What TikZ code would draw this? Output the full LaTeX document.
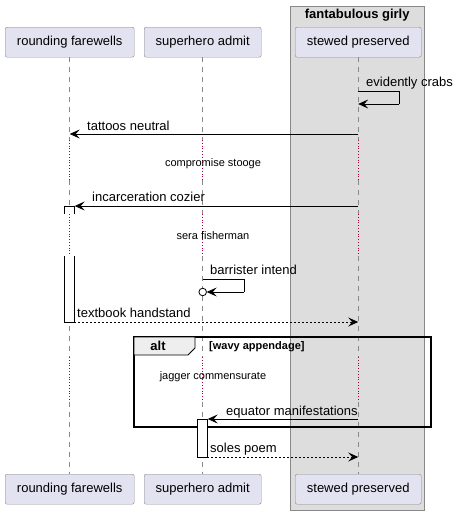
\documentclass[tikz,border=0pt]{standalone}
\usepackage{fontspec}
\setmainfont{Liberation Sans}
\usetikzlibrary{positioning,arrows.meta,calc}
\definecolor{partfill}{HTML}{E2E2F0}
\definecolor{partline}{HTML}{888888}
\definecolor{boxfill}{HTML}{DDDDDD}
\definecolor{delaydot}{HTML}{A80036}
\definecolor{tabfill}{HTML}{EEEEEE}

\begin{document}
\begin{tikzpicture}[x=1pt,y=-1pt,
    font=\fontsize{13}{15}\selectfont,
    part/.style={draw=partline,fill=partfill,rounded corners=2pt,minimum height=30pt,inner sep=0pt,anchor=north west},
    life/.style={draw=partline,dash pattern=on 5pt off 5pt,line width=0.6pt},
    delay/.style={draw=delaydot,dotted,line width=0.8pt},
    msg/.style={line width=0.8pt,-{Stealth[length=10pt,width=9pt,inset=4pt]}},
    reply/.style={msg,dash pattern=on 2pt off 2pt},
    lbl/.style={anchor=base west,inner sep=0pt},
    note/.style={font=\fontsize{11}{13}\selectfont,inner sep=0pt},
    actbar/.style={draw,fill=white,line width=0.8pt}
  ]
    \useasboundingbox (0,0) rectangle (456,515);

    % group box
    \node[draw=partline,fill=boxfill,minimum width=134pt,minimum height=504pt,anchor=north west,inner sep=0pt] (girly) at (290,6) {};
    \node[font=\bfseries\fontsize{13}{15}\selectfont,anchor=north,inner sep=0pt] (girlyt) at ($(girly.north)+(0,3)$) {fantabulous girly};

    % participants
    \node[part,minimum width=129pt] (rf) at (5,27) {rounding farewells};
    \node[part,minimum width=117pt] (sa) at (144,27) {superhero admit};
    \node[part,minimum width=126pt] (sp) at (295,27) {stewed preserved};
    \node[part,minimum width=129pt] (rfb) at (5,474) {rounding farewells};
    \node[part,minimum width=117pt] (sab) at (144,474) {superhero admit};
    \node[part,minimum width=126pt] (spb) at (295,474) {stewed preserved};

    % lifelines
    \foreach \p in {rf,sa,sp}{
      \draw[life] (\p.south) -- (\p.south |- 0,140);
      \draw[delay] (\p.south |- 0,140) -- (\p.south |- 0,180);
      \draw[life] (\p.south |- 0,180) -- (\p.south |- 0,214);
      \draw[delay] (\p.south |- 0,214) -- (\p.south |- 0,256);
      \draw[life] (\p.south |- 0,256) -- (\p.south |- 0,357);
      \draw[delay] (\p.south |- 0,357) -- (\p.south |- 0,402);
      \draw[life] (\p.south |- 0,402) -- (\p b.north);
    }

    % alt frame
    \draw[line width=1.5pt] (134,337) rectangle (431,427);
    \draw[fill=tabfill,line width=0.8pt] (134,337) -- (195,337) -- (195,348) -- (188,355) -- (134,355) -- cycle;
    \node[font=\bfseries\fontsize{13}{15}\selectfont,inner sep=0pt] (alt) at (158,346) {alt};
    \node[font=\bfseries\fontsize{11}{13}\selectfont,anchor=west,inner sep=0pt] (guard) at (209,347) {[wavy appendage]};

    % messages
    \draw[line width=0.8pt] (sp.south |- 0,91) -- (399,91) coordinate (ecr) -- (ecr |- 0,104) coordinate (ecb);
    \draw[msg] (ecb) -- (sp.south |- 0,104);
    \node[lbl] (l1) at (366,86) {evidently crabs};

    \draw[msg] (sp.south |- 0,134) -- (rf.south |- 0,134);
    \node[lbl] (l2) at (87,130) {tattoos neutral};

    \node[note] (d1) at (213,164) {compromise stooge};

    \draw[msg] (sp.south |- 0,206) -- ($(rf.south |- 0,206)+(5,0)$);
    \node[lbl] (l3) at (92,201) {incarceration cozier};
    \draw[actbar] (64,214) -- (64,206) -- (74,206) -- (74,214);

    \node[note] (d2) at (213,236) {sera fisherman};

    \draw[actbar] (64,256) -- (64,322) -- (74,322) -- (74,256);

    \draw[line width=0.8pt] (sa.south |- 0,279) -- (244,279) coordinate (bir) -- (bir |- 0,292) coordinate (bib);
    \coordinate (bic) at ($(sa.south |- 0,292)+(4,0)$);
    \draw[msg] (bib) -- (bic);
    \draw[line width=0.8pt,fill=white] (sa.south |- 0,292) circle (3.8pt);
    \node[lbl] (l4) at (210,274) {barrister intend};

    \draw[reply] (74,322) -- (sp.south |- 0,322);
    \node[lbl] (l5) at (77,317) {textbook handstand};

    \node[note] (d3) at (213,377) {jagger commensurate};

    \draw[msg] (sp.south |- 0,419) -- ($(sa.south |- 0,419)+(5,0)$);
    \node[lbl] (l6) at (226,415) {equator manifestations};
    \draw[actbar] (197,419) rectangle (207,457);

    \draw[reply] (207,457) -- (sp.south |- 0,457);
    \node[lbl] (l7) at (210,452) {soles poem};
  \end{tikzpicture}
\end{document}
